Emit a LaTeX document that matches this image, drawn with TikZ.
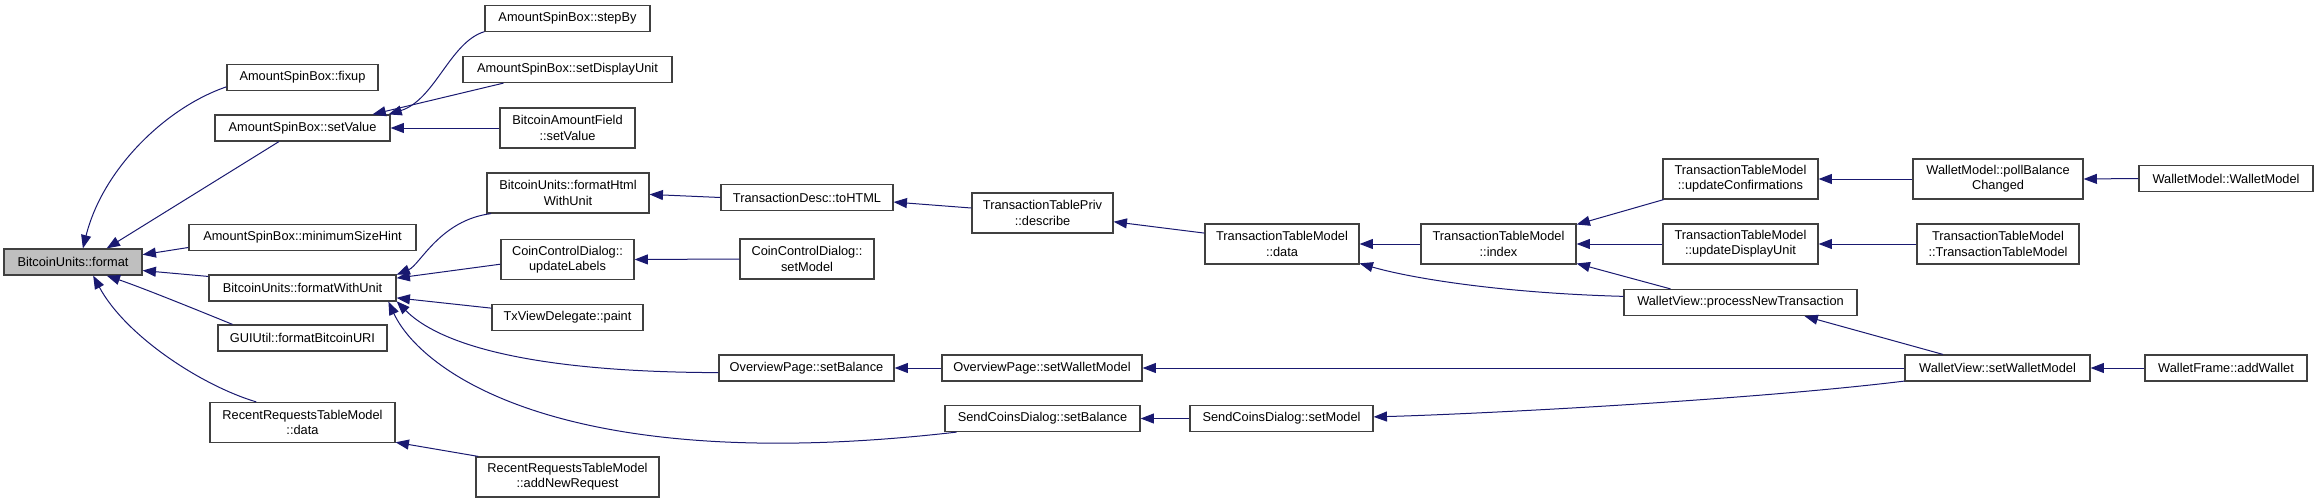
\documentclass[tikz,border=0pt]{standalone}
\usepackage{fontspec}
\setmainfont{Liberation Sans}
\usetikzlibrary{arrows.meta}
\definecolor{callblue}{HTML}{191970}
\definecolor{boxline}{HTML}{404040}
\definecolor{rootgray}{HTML}{BFBFBF}
\tikzset{
  fn/.style={draw=boxline, line width=0.9pt, fill=white, rectangle, inner sep=1pt,
    align=center, font=\fontsize{9.6}{11.5}\selectfont, minimum height=19.5pt},
  two/.style={minimum height=30pt},
  w/.style={minimum width=#1*0.75pt},
  root/.style={fn, fill=rootgray},
  call/.style={{Triangle[length=10pt,width=7.5pt]}-, draw=callblue, line width=0.75pt}
}
\begin{document}
\begin{tikzpicture}[x=0.75pt, y=-0.75pt]
        \useasboundingbox (0,0) rectangle (2319,503);

        % Root function
        \node[root, w=138] (fmt) at (73,262) {BitcoinUnits::format};

        % Direct callers
        \node[fn, w=151] (fixup) at (302.5,77.5) {AmountSpinBox::fixup};
        \node[fn, w=175] (setValue) at (302.5,128) {AmountSpinBox::setValue};
        \node[fn, w=227] (minHint) at (302.5,237.5) {AmountSpinBox::minimumSizeHint};
        \node[fn, w=187] (fwu) at (302.5,288) {BitcoinUnits::formatWithUnit};
        \node[fn, w=169] (uri) at (302.5,338) {GUIUtil::formatBitcoinURI};
        \node[fn, two, w=185] (rrData) at (302.5,422.5) {RecentRequestsTableModel\\::data};

        % Second level
        \node[fn, w=165] (stepBy) at (567.5,18.5) {AmountSpinBox::stepBy};
        \node[fn, w=209] (setDU) at (567.5,69.5) {AmountSpinBox::setDisplayUnit};
        \node[fn, two, w=135] (bafSetValue) at (567.5,128) {BitcoinAmountField\\::setValue};
        \node[fn, two, w=162] (fhwu) at (568,193) {BitcoinUnits::formatHtml\\WithUnit};
        \node[fn, two, w=133] (updLabels) at (567.5,259.5) {CoinControlDialog::\\updateLabels};
        \node[fn, w=151] (paint) at (567.5,317.5) {TxViewDelegate::paint};
        \node[fn, two, w=183] (addReq) at (567.5,477) {RecentRequestsTableModel\\::addNewRequest};

        % Third level
        \node[fn, w=172] (toHTML) at (807,197.5) {TransactionDesc::toHTML};
        \node[fn, two, w=134] (ccdSetModel) at (807,259) {CoinControlDialog::\\setModel};
        \node[fn, w=175] (ovSetBal) at (806.5,368) {OverviewPage::setBalance};

        \node[fn, two, w=141] (describe) at (1042.5,213) {TransactionTablePriv\\::describe};
        \node[fn, w=200] (ovSetWM) at (1042,368) {OverviewPage::setWalletModel};
        \node[fn, w=195] (scSetBal) at (1042.5,418.5) {SendCoinsDialog::setBalance};

        \node[fn, two, w=154] (ttmData) at (1282,244) {TransactionTableModel\\::data};
        \node[fn, w=183] (scSetModel) at (1281.5,418.5) {SendCoinsDialog::setModel};

        \node[fn, two, w=155] (ttmIndex) at (1498.5,244) {TransactionTableModel\\::index};

        \node[fn, two, w=155] (updConf) at (1740.5,179) {TransactionTableModel\\::updateConfirmations};
        \node[fn, two, w=155] (updDU) at (1740.5,244) {TransactionTableModel\\::updateDisplayUnit};
        \node[fn, w=233] (procNT) at (1740.5,302.5) {WalletView::processNewTransaction};

        \node[fn, two, w=170] (pollBC) at (1998,179) {WalletModel::pollBalance\\Changed};
        \node[fn, two, w=162] (ttmCtor) at (1998,244) {TransactionTableModel\\::TransactionTableModel};
        \node[fn, w=185] (wvSetWM) at (1997.5,368) {WalletView::setWalletModel};

        \node[fn, w=174] (wmCtor) at (2226,178.5) {WalletModel::WalletModel};
        \node[fn, w=162] (addWallet) at (2226,368) {WalletFrame::addWallet};

        % Calls into BitcoinUnits::format
        \draw[call] (fmt.54) .. controls (103,168) and (167,107) .. (fixup.187);
        \draw[call] (fmt.22) -- (setValue.210);
        \draw[call] (fmt.6.6) -- (minHint.185.8);
        \draw[call] (fmt.-7.4) -- (fwu.173.9);
        \draw[call] (fmt.-22) .. controls (140,287) and (185,305) .. (uri.169);
        \draw[call] (fmt.-34) .. controls (125,335) and (200,385) .. (rrData.156);

        % Calls into the first column
        \draw[call] (setValue.9) .. controls (435,100) and (450,42) .. (stepBy.189);
        \draw[call] (setValue.11.6) -- (setDU.192);
        \draw[call] (setValue.east) -- (bafSetValue.west);
        \draw[call] (fwu.8.2) .. controls (420,265) and (440,220) .. (fhwu.195);
        \draw[call] (fwu.6.1) -- (updLabels.184.7);
        \draw[call] (fwu.-6.7) -- (paint.173.6);
        \draw[call] (fwu.-8.2) .. controls (430,335) and (500,372) .. (ovSetBal.183.3);
        \draw[call] (fwu.-9) .. controls (420,370) and (560,478) .. (scSetBal.189.8);
        \draw[call] (rrData.-12) -- (addReq.167);

        % Further up the chain
        \draw[call] (fhwu.-1.4) -- (toHTML.west);
        \draw[call] (toHTML.-3.7) -- (describe.176);
        \draw[call] (describe.-7.3) -- (ttmData.172.6);
        \draw[call] (updLabels.east) -- (ccdSetModel.west);
        \draw[call] (ovSetBal.east) -- (ovSetWM.west);
        \draw[call] (scSetBal.east) -- (scSetModel.west);
        \draw[call] (ovSetWM.east) -- (wvSetWM.west);
        \draw[call] (scSetModel.1.6) .. controls (1480,414) and (1750,400) .. (wvSetWM.188.2);
        \draw[call] (ttmData.east) -- (ttmIndex.west);
        \draw[call] (ttmData.-14) .. controls (1410,278) and (1500,293) .. (procNT.177.3);
        \draw[call] (ttmIndex.14.5) -- (updConf.195);
        \draw[call] (ttmIndex.east) -- (updDU.west);
        \draw[call] (ttmIndex.-14.5) -- (procNT.169);
        \draw[call] (updConf.east) -- (pollBC.west);
        \draw[call] (updDU.east) -- (ttmCtor.west);
        \draw[call] (pollBC.east) -- (wmCtor.west);
        \draw[call] (procNT.-12) -- (wvSetWM.166);
        \draw[call] (wvSetWM.east) -- (addWallet.west);
\end{tikzpicture}
\end{document}
